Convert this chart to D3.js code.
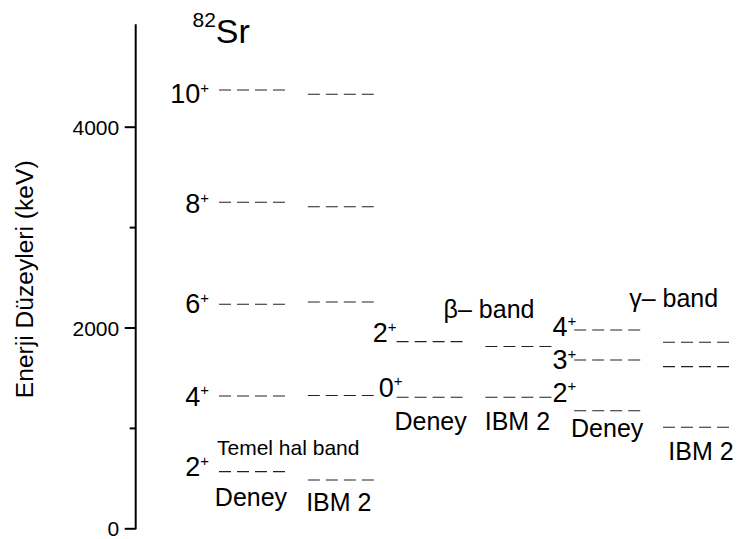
<!DOCTYPE html>
<html>
<head>
<meta charset="utf-8">
<script src="https://cdn.jsdelivr.net/npm/d3@7"></script>
<style>
  html, body { margin: 0; padding: 0; background: #fff; }
  svg { display: block; font-family: "Liberation Sans", Arial, sans-serif; }
</style>
</head>
<body>
<svg id="chart" width="741" height="539"></svg>
<script>
// ---------------- data ----------------
const nucleusMass = "82";
const nucleusSymbol = "Sr";
const yAxisTitle = "Enerji Düzeyleri (keV)";
const yTicks = [0, 2000, 4000];
const yMinorTicks = [1000, 3000];
const yMax = 5000;

const bandNames = ["Temel hal band", "β– band", "γ– band"];
const columnNames = ["Deney", "IBM 2", "Deney", "IBM 2", "Deney", "IBM 2"];

const groundSpins = ["10", "8", "6", "4", "2"];
const groundDeney = [4366, 3247, 2231, 1318, 564];
const groundIBM2 = [4323, 3203, 2254, 1323, 481];

const betaSpins = ["2", "0"];
const betaDeney = [1859, 1305];
const betaIBM2 = [1811, 1305];

const gammaSpins = ["4", "3", "2"];
const gammaDeney = [1975, 1676, 1171];
const gammaIBM2 = [1853, 1610, 1006];

// ---------------- layout ----------------
const svg = d3.select("#chart");
const y = d3.scaleLinear().domain([0, yMax]).range([528.3, 26.3]);
const x = d3.scaleBand().domain(d3.range(columnNames.length))
  .range([219, 729]).paddingInner(0.257).paddingOuter(0);

const columns = [groundDeney, groundIBM2, betaDeney, betaIBM2, gammaDeney, gammaIBM2];
const spinsByBand = [groundSpins, betaSpins, gammaSpins];
const deneyByBand = [groundDeney, betaDeney, gammaDeney];

// label offsets (px) relative to column left edge / level
const labelLayout = [
  { dx: -10, dy: [13.5, 11, 9, 10, 4.5] },
  { dx: [0, 6], dy: [0.5, -0.5] },
  { dx: [2, 2, 2], dy: [6, 9, -9] }
];
const captionLayout = [
  { dx: -1, dy: 34.5 }, { dx: -2, dy: 30.5 },
  { dx: 1, dy: 33 }, { dx: -1, dy: 33 },
  { dx: 0, dy: 26.5 }, { dx: 5, dy: 33 }
];
const bandTitleLayout = [
  { col: 0, dx: -2, ref: 4, dy: -17, size: 21 },
  { col: 2, dx: 47, ref: 0, dy: -23.5, size: 25 },
  { col: 4, dx: 55, ref: 0, dy: -23.5, size: 25 }
];

// ---------------- axis ----------------
const axisG = svg.append("g").attr("transform", "translate(135.7,0)");
const major = d3.axisLeft(y).tickValues(yTicks).tickSize(11).tickPadding(5.5)
  .tickSizeOuter(0).tickFormat(d3.format("d"));
axisG.call(major);
axisG.select(".domain").attr("stroke", "#000").attr("stroke-width", 2)
  .attr("d", `M0,${y(0) + 1}V${y(yMax) - 2}`);
axisG.selectAll(".tick line").attr("stroke", "#000").attr("stroke-width", 2);
axisG.selectAll(".tick text").attr("font-size", 21).attr("fill", "#000")
  .attr("dy", "0.36em").attr("font-family", "Liberation Sans, Arial, sans-serif");

const minorG = svg.append("g").attr("transform", "translate(135.7,0)");
minorG.call(d3.axisLeft(y).tickValues(yMinorTicks).tickSize(6).tickFormat(""));
minorG.select(".domain").remove();
minorG.selectAll(".tick line").attr("stroke", "#000").attr("stroke-width", 2);

svg.append("text")
  .attr("transform", `translate(32.5,${(y(0) + y(yMax)) / 2 + 2}) rotate(-90)`)
  .attr("text-anchor", "middle").attr("font-size", 24.6).attr("fill", "#000")
  .text(yAxisTitle);

// ---------------- title ----------------
const title = svg.append("text").attr("x", 192.5).attr("y", 43.3).attr("fill", "#000");
title.append("tspan").attr("font-size", 21).attr("dy", -16).text(nucleusMass);
title.append("tspan").attr("font-size", 34).attr("dx", 0).attr("dy", 16).text(nucleusSymbol);

// ---------------- levels ----------------
columns.forEach((vals, ci) => {
  svg.append("g").selectAll("line").data(vals).join("line")
    .attr("x1", x(ci)).attr("x2", x(ci) + x.bandwidth())
    .attr("y1", d => y(d)).attr("y2", d => y(d))
    .attr("stroke", "#222").attr("stroke-width", 1.1)
    .attr("stroke-dasharray", "12,6");
});

// spin labels (at experimental levels)
spinsByBand.forEach((spins, bi) => {
  const ci = bi * 2;
  const L = labelLayout[bi];
  const g = svg.append("g");
  spins.forEach((s, i) => {
    const dx = Array.isArray(L.dx) ? L.dx[i] : L.dx;
    const t = g.append("text")
      .attr("x", x(ci) + dx).attr("y", y(deneyByBand[bi][i]) + L.dy[i])
      .attr("text-anchor", "end").attr("fill", "#000");
    t.append("tspan").attr("font-size", 27).text(s);
    t.append("tspan").attr("font-size", 15).attr("dy", -10.5).text("+");
  });
});

// column captions
columnNames.forEach((name, ci) => {
  const c = captionLayout[ci];
  svg.append("text")
    .attr("x", x(ci) + x.bandwidth() / 2 + c.dx)
    .attr("y", y(d3.min(columns[ci])) + c.dy)
    .attr("text-anchor", "middle").attr("font-size", 25).attr("fill", "#000")
    .text(name);
});

// band titles
bandNames.forEach((name, bi) => {
  const b = bandTitleLayout[bi];
  svg.append("text")
    .attr("x", x(b.col) + b.dx)
    .attr("y", y(deneyByBand[bi][b.ref]) + b.dy)
    .attr("font-size", b.size).attr("fill", "#000")
    .text(name);
});
</script>
</body>
</html>
